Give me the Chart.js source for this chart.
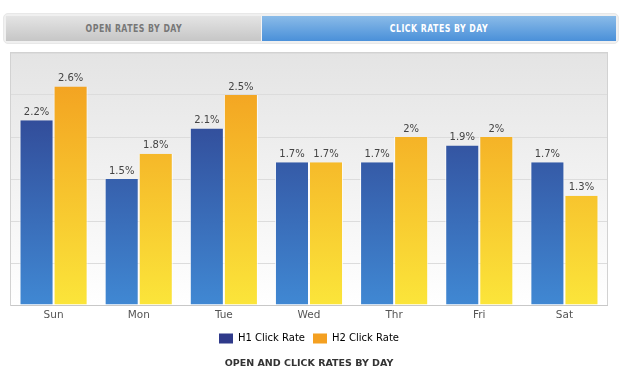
<!DOCTYPE html>
<html>
<head>
<meta charset="utf-8">
<script src="https://cdn.jsdelivr.net/npm/chart.js@4"></script>
<style>
  body { margin: 0; background: #fff; font-family: "DejaVu Sans", sans-serif; }
  #wrap { position: relative; width: 620px; height: 374px; }
  #tabs {
    position: absolute; left: 3px; top: 13px; width: 610px; height: 25px;
    padding: 2px; border-radius: 5px; background: #f0f0f0;
    border: 1px solid #e8e8e8; display: flex;
  }
  .tab {
    height: 25px; line-height: 25px; text-align: center;
    font-size: 10px; font-weight: bold; letter-spacing: 0.6px;
    font-family: "DejaVu Sans", sans-serif;
  }
  .tab span { display: inline-block; transform: scaleX(0.78); }
  #tabOpen { width: 255px; background: linear-gradient(#e4e4e4, #c6c6c6); color: #777; border-right: 1px solid #f4f4f4; }
  #tabClick { flex: 1; background: linear-gradient(#8abbe8, #4a90d9); color: #fff; }
  #box { position: absolute; left: 0; top: 48px; width: 620px; height: 326px; }
</style>
</head>
<body>
<div id="wrap">
  <div id="tabs">
    <div class="tab" id="tabOpen"><span>OPEN RATES BY DAY</span></div>
    <div class="tab" id="tabClick"><span>CLICK RATES BY DAY</span></div>
  </div>
  <div id="box"><canvas id="myChart"></canvas></div>
</div>
<script>
var dias = ['Sun', 'Mon', 'Tue', 'Wed', 'Thr', 'Fri', 'Sat'];
var h1Click = [2.2, 1.5, 2.1, 1.7, 1.7, 1.9, 1.7];
var h2Click = [2.6, 1.8, 2.5, 1.7, 2, 2, 1.3];
var yMax = 3;
var yPaso = 0.5;

// degradado segun el area del grafico
function degradado(ctx, chart, arriba, abajo) {
    var area = chart.chartArea;
    if (!area) return arriba;
    var g = ctx.createLinearGradient(0, area.top, 0, area.bottom);
    g.addColorStop(0, arriba);
    g.addColorStop(1, abajo);
    return g;
}

// fondo gris y borde del area del grafico
var fondoPlot = {
    id: 'fondoPlot',
    beforeDraw: function (chart) {
        var a = chart.chartArea;
        var ctx = chart.ctx;
        ctx.save();
        var g = ctx.createLinearGradient(0, a.top, 0, a.bottom);
        g.addColorStop(0, '#e4e4e4');
        g.addColorStop(1, '#ffffff');
        ctx.fillStyle = g;
        ctx.fillRect(a.left, a.top, a.right - a.left, a.bottom - a.top);
        ctx.strokeStyle = '#d2d2d2';
        ctx.lineWidth = 1;
        ctx.strokeRect(a.left - 0.5, a.top - 0.5, a.right - a.left + 1, a.bottom - a.top + 1);
        ctx.restore();
    }
};

// etiquetas de valor encima de cada barra
var etiquetas = {
    id: 'etiquetas',
    afterDatasetsDraw: function (chart) {
        var ctx = chart.ctx;
        ctx.save();
        ctx.font = '10px "DejaVu Sans", sans-serif';
        ctx.fillStyle = '#444';
        ctx.textAlign = 'center';
        ctx.textBaseline = 'bottom';
        chart.data.datasets.forEach(function (ds, i) {
            chart.getDatasetMeta(i).data.forEach(function (bar, j) {
                ctx.fillText(ds.data[j] + '%', bar.x, bar.y - 3);
            });
        });
        ctx.restore();
    }
};

var ctx = document.getElementById('myChart').getContext('2d');
var myChart = new Chart(ctx, {
    type: 'bar',
    data: {
        labels: dias,
        datasets: [{
            label: 'H1 Click Rate',
            data: h1Click,
            backgroundColor: function (c) { return degradado(c.chart.ctx, c.chart, '#2d3886', '#4088d3'); },
            borderColor: 'rgba(255,255,255,0.8)',
            borderWidth: { left: 1, right: 1, top: 0, bottom: 0 },
            borderSkipped: false
        }, {
            label: 'H2 Click Rate',
            data: h2Click,
            backgroundColor: function (c) { return degradado(c.chart.ctx, c.chart, '#f29a1e', '#fbe53a'); },
            borderColor: 'rgba(255,255,255,0.8)',
            borderWidth: { left: 1, right: 1, top: 0, bottom: 0 },
            borderSkipped: false
        }]
    },
    options: {
        responsive: true,
        maintainAspectRatio: false,
        animation: false,
        layout: { padding: { left: 11, right: 13, top: 5, bottom: 1 } },
        datasets: { bar: { categoryPercentage: 0.8, barPercentage: 1.0 } },
        scales: {
            x: {
                grid: { display: false, drawTicks: false },
                border: { color: '#c8c8c8' },
                ticks: { color: '#555', font: { family: 'DejaVu Sans', size: 10.5 }, padding: 4 }
            },
            y: {
                min: 0,
                max: yMax,
                ticks: { display: false, stepSize: yPaso },
                grid: { color: '#dcdcdc', drawTicks: false },
                border: { display: false }
            }
        },
        plugins: {
            legend: {
                position: 'bottom',
                labels: {
                    boxWidth: 14,
                    boxHeight: 10,
                    color: '#555',
                    font: { family: 'DejaVu Sans', size: 10 },
                    padding: 8,
                    generateLabels: function (chart) {
                        var colores = ['#2f3a8a', '#f4a021'];
                        return chart.data.datasets.map(function (ds, i) {
                            return { text: ds.label, fillStyle: colores[i], strokeStyle: colores[i], lineWidth: 0, datasetIndex: i };
                        });
                    }
                }
            },
            title: {
                display: true,
                position: 'bottom',
                text: 'OPEN AND CLICK RATES BY DAY',
                color: '#333',
                font: { family: 'DejaVu Sans', size: 9.5, weight: 'bold' },
                padding: { top: 4, bottom: 4 }
            },
            tooltip: { enabled: false }
        }
    },
    plugins: [fondoPlot, etiquetas]
});
</script>
</body>
</html>
